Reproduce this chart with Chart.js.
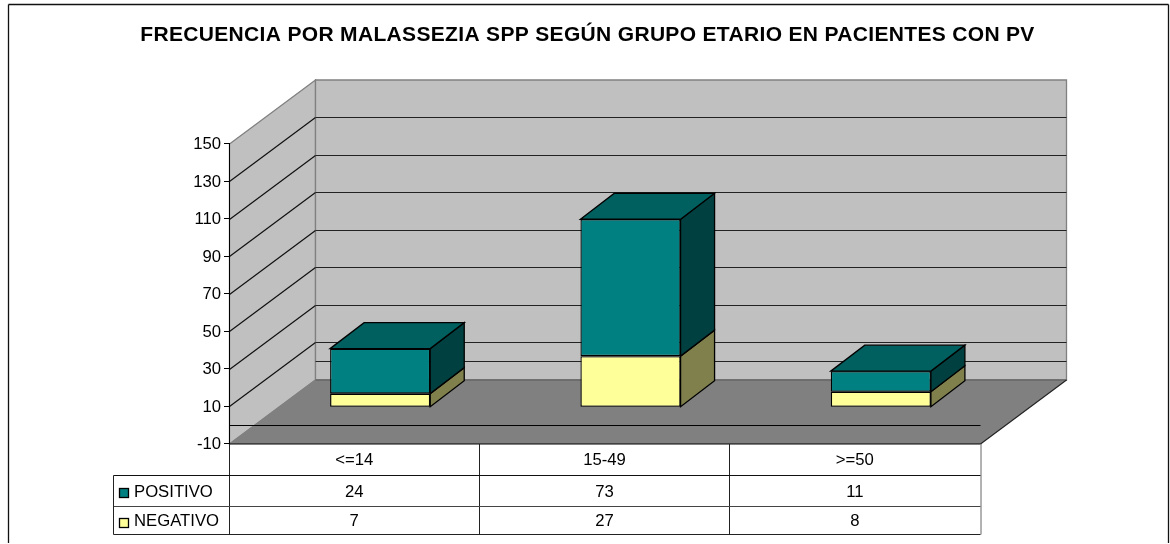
<!DOCTYPE html>
<html><head><meta charset="utf-8">
<style>html,body{margin:0;padding:0;background:#fff}canvas{display:block}</style>
<script src="https://cdn.jsdelivr.net/npm/chart.js@4"></script></head>
<body><canvas id="c" width="1170" height="544"></canvas>
<script>
const categories = ['<=14', '15-49', '>=50'];
const positivo = [24, 73, 11];
const negativo = [7, 27, 8];
const titleText = 'FRECUENCIA POR MALASSEZIA SPP SEGÚN GRUPO ETARIO EN PACIENTES CON PV';
const FONT = '"Liberation Sans", Arial, sans-serif';
const WALL = {dx: 86, dy: -64};
const BAR = {ox: 26, oy: -18, dx: 34, dy: -26};
const T = {labelLeft: 113, rows: [475.5, 506.5, 534.5]};
const shades = {
  NEGATIVO: {front: '#FFFF99', side: '#80804D', top: '#CCCC7A'},
  POSITIVO: {front: '#008080', side: '#004040', top: '#006060'}
};
function poly(ctx, pts, fill, stroke, lw) {
  ctx.beginPath();
  pts.forEach((p, i) => i ? ctx.lineTo(p[0], p[1]) : ctx.moveTo(p[0], p[1]));
  ctx.closePath();
  if (fill) { ctx.fillStyle = fill; ctx.fill(); }
  if (stroke) { ctx.strokeStyle = stroke; ctx.lineWidth = lw || 1; ctx.stroke(); }
}
function line(ctx, x1, y1, x2, y2, c, lw) {
  ctx.beginPath(); ctx.moveTo(x1, y1); ctx.lineTo(x2, y2);
  ctx.strokeStyle = c; ctx.lineWidth = lw || 1; ctx.stroke();
}
const scene = {
  id: 'scene',
  beforeDraw(chart) {
    const ctx = chart.ctx, a = chart.chartArea, y = chart.scales.y;
    const L = a.left + .5, R = a.right + .5, Tp = a.top + .5, B = a.bottom + .5;
    const d = WALL;
    ctx.save();
    ctx.fillStyle = '#fff'; ctx.fillRect(0, 0, chart.width, chart.height);
    // frame
    line(ctx, 8.5, 4.5, 1168.5, 4.5, '#111', 1.3);
    line(ctx, 8.5, 4.5, 8.5, 543, '#111', 1.3);
    line(ctx, 1168.5, 4.5, 1168.5, 543, '#111', 1.3);
    // walls
    poly(ctx, [[L, Tp], [L + d.dx, Tp + d.dy], [L + d.dx, B + d.dy], [L, B]], '#C0C0C0', '#808080', 1.3);
    poly(ctx, [[L + d.dx, Tp + d.dy], [R + d.dx, Tp + d.dy], [R + d.dx, B + d.dy], [L + d.dx, B + d.dy]], '#C0C0C0', '#808080', 1.3);
    // grid on walls
    y.ticks.forEach(t => {
      if (t.value <= y.min || t.value >= y.max) return;
      const py = Math.round(y.getPixelForValue(t.value)) + .5;
      line(ctx, L, py, L + d.dx, py + d.dy, '#111', 1.2);
      line(ctx, L + d.dx, py + d.dy, R + d.dx, py + d.dy, '#222', 1.2);
    });
    const z = Math.round(y.getPixelForValue(0)) + .5;
    line(ctx, L + d.dx, z + d.dy, R + d.dx, z + d.dy, '#222', 1.2);
    // floor
    poly(ctx, [[L, B], [L + d.dx, B + d.dy], [R + d.dx, B + d.dy], [R, B]], '#808080');
    line(ctx, L, B, L + d.dx, B + d.dy, '#808080', 1.3);
    line(ctx, L + d.dx, B + d.dy, R + d.dx, B + d.dy, '#666', 1.3);
    line(ctx, R + d.dx, B + d.dy, R, B, '#222', 1.2);
    line(ctx, L, B, R, B, '#000', 1.2);
    line(ctx, L, z, R, z, '#000', 1.2);
    ctx.restore();
  },
  beforeDatasetsDraw(chart) {
    const ctx = chart.ctx;
    ctx.save();
    ctx.translate(BAR.ox, BAR.oy);
    chart.data.datasets.forEach((ds, i) => {
      const s = shades[ds.label];
      chart.getDatasetMeta(i).data.forEach(el => {
        const l = el.x - el.width / 2, r = el.x + el.width / 2;
        poly(ctx, [[r, el.y], [r + BAR.dx, el.y + BAR.dy], [r + BAR.dx, el.base + BAR.dy], [r, el.base]], s.side, '#000', 1.3);
        if (i === chart.data.datasets.length - 1)
          poly(ctx, [[l, el.y], [l + BAR.dx, el.y + BAR.dy], [r + BAR.dx, el.y + BAR.dy], [r, el.y]], s.top, '#000', 1.3);
      });
    });
  },
  afterDatasetsDraw(chart) {
    chart.ctx.restore();
  },
  afterDraw(chart) {
    const ctx = chart.ctx, a = chart.chartArea;
    const L = a.left + .5, R = a.right + .5, B = a.bottom + .5;
    const n = categories.length, w = (R - L) / n;
    const rows = T.rows, ll = T.labelLeft + .5;
    ctx.save();
    // title
    ctx.fillStyle = '#000';
    ctx.font = 'bold 21px ' + FONT;
    ctx.textAlign = 'center';
    ctx.textBaseline = 'middle';
    ctx.letterSpacing = '0.33px';
    ctx.fillText(titleText, 587.5, 35);
    ctx.letterSpacing = '0px';
    // data table
    line(ctx, L, B, L, rows[2], '#222');
    for (let i = 1; i <= n; i++) {
      const x = Math.round(L + w * i) + (i === n ? 0 : -.5);
      line(ctx, x, B, x, rows[2], i === n ? '#666' : '#222');
    }
    line(ctx, ll, rows[0], R, rows[0], '#111');
    line(ctx, ll, rows[1], R, rows[1], '#444');
    line(ctx, ll, rows[2], R, rows[2], '#222');
    line(ctx, ll, rows[0], ll, rows[2], '#222');
    ctx.font = '16.7px ' + FONT;
    ctx.textAlign = 'center';
    const centers = [(B + rows[0]) / 2, (rows[0] + rows[1]) / 2, (rows[1] + rows[2]) / 2];
    categories.forEach((c, i) => {
      const cx = L + w * (i + .5) - .5;
      ctx.fillStyle = '#000';
      ctx.fillText(c, cx, centers[0] + 1);
      ctx.fillText(String(positivo[i]), cx, centers[1] + 1);
      ctx.fillText(String(negativo[i]), cx, centers[2] + 1);
    });
    ctx.textAlign = 'left';
    [['POSITIVO', centers[1]], ['NEGATIVO', centers[2]]].forEach(([name, cy]) => {
      ctx.fillStyle = '#000';
      ctx.fillText(name, 134, cy + 1);
      const sy = Math.round(cy) - 2.5;
      ctx.fillStyle = shades[name].front;
      ctx.fillRect(119.5, sy, 9, 9);
      ctx.strokeStyle = '#000'; ctx.lineWidth = 1.3;
      ctx.strokeRect(119.5, sy, 9, 9);
    });
    ctx.restore();
  }
};
new Chart(document.getElementById('c'), {
  type: 'bar',
  data: {
    labels: categories,
    datasets: [
      {label: 'NEGATIVO', data: negativo, backgroundColor: shades.NEGATIVO.front, borderColor: '#000', borderWidth: 1.3, borderSkipped: false},
      {label: 'POSITIVO', data: positivo, backgroundColor: shades.POSITIVO.front, borderColor: '#000', borderWidth: 1.3, borderSkipped: false}
    ]
  },
  plugins: [scene],
  options: {
    responsive: false,
    animation: false,
    devicePixelRatio: 1,
    layout: {padding: {left: 5, right: 190, top: 143.5, bottom: 100.5}},
    categoryPercentage: 1,
    barPercentage: 0.4,
    plugins: {
      legend: {display: false},
      tooltip: {enabled: false},
      title: {display: false}
    },
    scales: {
      x: {stacked: true, display: false},
      y: {
        stacked: true, min: -10, max: 150,
        afterFit(s) { s.width = 224; },
        ticks: {stepSize: 20, color: '#000', font: {family: FONT, size: 16.7}, padding: 3, labelOffset: 1},
        grid: {drawOnChartArea: false, tickLength: 5, color: '#000', tickColor: '#000'},
        border: {display: true, color: '#000'}
      }
    }
  }
});
</script></body></html>
